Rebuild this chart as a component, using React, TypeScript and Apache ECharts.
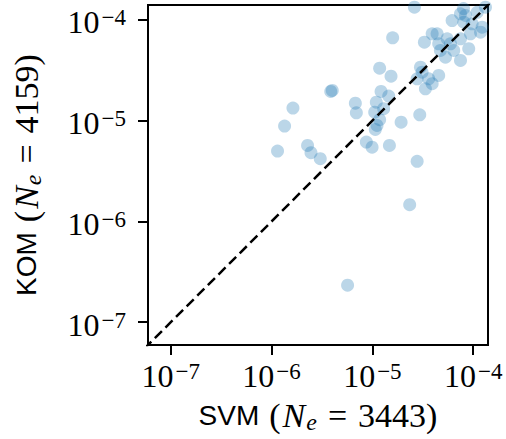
import React, { useEffect, useRef } from 'react';
import * as echarts from 'echarts';

// log10 of the per-point values
const svmLog10 = [
  -5.941, -5.871, -5.788, -5.643, -5.609, -5.517, -5.413, -5.398, -5.169, -5.159,
  -4.928, -4.815, -4.914, -4.838, -4.961, -4.888, -4.977, -4.928, -4.954, -4.971,
  -4.715, -5.060, -5.003, -4.831, -4.556, -4.530, -4.630, -5.246, -4.799, -4.583,
  -4.523, -4.507, -4.556, -4.441, -4.342, -4.407, -4.474, -4.484, -4.407, -4.358,
  -4.342, -4.258, -4.225, -4.325, -4.193, -4.275, -4.126, -4.126, -4.044, -4.027,
  -3.927, -4.209, -4.093, -4.010, -3.911, -4.126, -4.076, -3.960, -3.878, -4.096,
];
const komLog10 = [
  -5.302, -5.054, -4.876, -5.246, -5.318, -5.378, -4.711, -4.701, -4.827, -4.922,
  -4.480, -4.559, -4.711, -4.757, -4.817, -4.882, -4.916, -4.991, -5.048, -5.087,
  -5.015, -5.213, -5.263, -5.246, -5.404, -4.942, -5.834, -6.633, -4.178, -3.875,
  -4.470, -4.519, -4.585, -4.585, -4.552, -4.634, -4.684, -4.222, -4.139, -4.139,
  -4.238, -4.188, -4.238, -4.304, -4.304, -4.371, -4.403, -4.188, -4.287, -4.139,
  -4.123, -4.007, -4.024, -4.040, -4.073, -3.941, -3.957, -3.925, -3.875, -3.888,
];
const tickExponents = [-7, -6, -5, -4];
const axisMin = -7.226;
const axisMax = -3.853;
const diagonal = [-8, -3];
const xName = { method: 'SVM', ne: '3443' };
const yName = { method: 'KOM', ne: '4159' };

const tickRich = {
  b: { fontFamily: 'Liberation Serif', fontSize: 32, lineHeight: 32, verticalAlign: 'bottom', color: '#000', padding: [2, 0, 0, 0] },
  s: { fontFamily: 'Liberation Serif', fontSize: 23, lineHeight: 23, verticalAlign: 'top', color: '#000', padding: [0, 0, 0, 2] },
};
const nameRich = {
  sans: { fontFamily: 'Liberation Sans', fontSize: 28, color: '#000', padding: [0, 10, 0, 0] },
  rm: { fontFamily: 'Liberation Serif', fontSize: 34, color: '#000' },
  it: { fontFamily: 'Liberation Serif', fontStyle: 'italic', fontSize: 34, color: '#000', padding: [0, 1, 0, 2] },
  sub: { fontFamily: 'Liberation Serif', fontStyle: 'italic', fontSize: 24, color: '#000', padding: [13, 0, 0, 0] },
  eq: { fontFamily: 'Liberation Serif', fontSize: 34, color: '#000', padding: [0, 11, 0, 11] },
};
const tickFmt = (v: number) => `{b|10}{s|\u2212${Math.abs(Math.round(v))}}`;
const nameFmt = (n: { method: string; ne: string }) =>
  `{sans|${n.method}}{rm|(}{it|N}{sub|e}{eq|=}{rm|${n.ne})}`;

export default function App() {
  const ref = useRef<HTMLDivElement>(null);
  useEffect(() => {
    const chart = echarts.init(ref.current!, null, { renderer: 'svg' });
    const axisCommon = {
      type: 'value',
      min: axisMin,
      max: axisMax,
      splitLine: { show: false },
      axisLine: { show: true, lineStyle: { color: '#000', width: 2 } },
      axisTick: { show: true, customValues: tickExponents, length: 10, lineStyle: { color: '#000', width: 2 } },
    };
    chart.setOption({
      animation: false,
      backgroundColor: '#fff',
      grid: { left: 148, top: 5, width: 340, height: 340, show: true, borderColor: '#000', borderWidth: 2, backgroundColor: 'transparent' },
      xAxis: {
        ...axisCommon,
        axisLabel: { customValues: tickExponents, formatter: tickFmt, rich: tickRich, margin: 15 },
        name: nameFmt(xName),
        nameLocation: 'middle',
        nameGap: 52,
        nameTextStyle: { rich: nameRich },
      },
      yAxis: {
        ...axisCommon,
        axisLabel: { customValues: tickExponents, formatter: tickFmt, rich: tickRich, margin: 22, padding: [5, 0, 0, 0] },
        name: nameFmt(yName),
        nameLocation: 'middle',
        nameRotate: 90,
        nameGap: 103,
        nameTextStyle: { rich: nameRich },
      },
      series: [
        {
          type: 'scatter',
          data: svmLog10.map((x, i) => [x, komLog10[i]]),
          symbolSize: 13,
          itemStyle: { color: '#1f77b4', opacity: 0.3 },
          z: 2,
        },
        {
          type: 'line',
          data: diagonal.map((v) => [v, v]),
          symbol: 'none',
          lineStyle: { color: '#000', width: 2.5, type: [10, 5] },
          z: 3,
        },
      ],
    });
    return () => chart.dispose();
  }, []);
  return (
    <div
      ref={ref}
      style={{ position: 'fixed', left: 0, top: 0, width: 506, height: 439, background: '#fff' }}
    />
  );
}
